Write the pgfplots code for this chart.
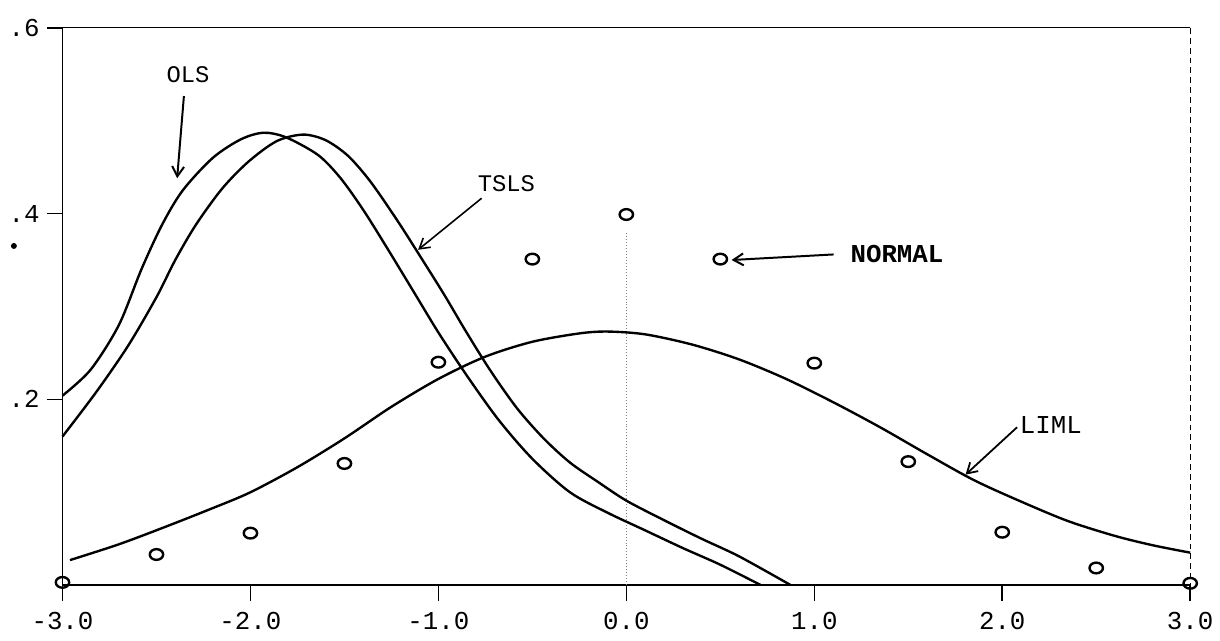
\documentclass[border=0pt]{standalone}
\usepackage{fontspec}
\setmonofont{Liberation Mono}
\usepackage{pgfplots}
\pgfplotsset{compat=1.18}
\usetikzlibrary{arrows.meta}
\begin{document}
\begin{tikzpicture}
\path (0,0) rectangle (610pt,323pt);
\begin{axis}[
  at={(31.5pt,28pt)}, anchor=south west,
  scale only axis, width=568.5pt, height=281pt,
  xmin=-3, xmax=3, ymin=0, ymax=0.6,
  axis lines*=left,
  axis line style={line width=0.9pt},
  tick align=outside, major tick length=8pt,
  tick style={line width=0.8pt, black},
  xtick={-3,-2,-1,0,1,2,3},
  xticklabels={-3.0,-2.0,-1.0,0.0,1.0,2.0,3.0},
  ytick={0.2,0.4,0.6},
  yticklabels={.2,.4,.6},
  ticklabel style={font=\ttfamily\fontsize{13}{15}\selectfont},
  xticklabel style={yshift=-2pt},
  clip=false,
]
% frame top and right
\draw[line width=0.5pt] (axis cs:-3,0.6) -- (axis cs:3,0.6);
\draw[line width=0.5pt, densely dashed] (axis cs:3,0.6) -- (axis cs:3,0);
\draw[line width=0.5pt, densely dotted, gray] (axis cs:0,0) -- (axis cs:0,0.38);

% OLS
\addplot[black, line width=1.2pt, smooth] coordinates {
(-3.00,0.204) (-2.85,0.232) (-2.70,0.280) (-2.58,0.340) (-2.47,0.388)
(-2.36,0.425) (-2.20,0.460) (-2.05,0.480) (-1.93,0.487) (-1.81,0.482)
(-1.64,0.463) (-1.52,0.438) (-1.40,0.404) (-1.27,0.362) (-1.12,0.312)
(-1.00,0.272) (-0.85,0.226) (-0.68,0.178) (-0.50,0.136) (-0.30,0.100)
(-0.10,0.078) (0.10,0.059) (0.30,0.040) (0.50,0.022) (0.716,0.000)};

% TSLS
\addplot[black, line width=1.2pt, smooth] coordinates {
(-3.00,0.160) (-2.82,0.208) (-2.65,0.258) (-2.50,0.310) (-2.40,0.350)
(-2.29,0.388) (-2.15,0.427) (-2.01,0.456) (-1.86,0.478) (-1.72,0.485)
(-1.60,0.479) (-1.48,0.462) (-1.36,0.434) (-1.22,0.393) (-1.10,0.355)
(-0.97,0.313) (-0.85,0.272) (-0.72,0.230) (-0.58,0.190) (-0.44,0.158)
(-0.30,0.132) (-0.15,0.111) (0.00,0.091) (0.20,0.070) (0.40,0.050)
(0.60,0.031) (0.875,0.000)};

% LIML
\addplot[black, line width=1.2pt, smooth] coordinates {
(-2.96,0.027) (-2.70,0.044) (-2.45,0.063) (-2.20,0.083) (-2.00,0.100)
(-1.75,0.127) (-1.50,0.158) (-1.25,0.192) (-1.00,0.222) (-0.75,0.246)
(-0.50,0.262) (-0.25,0.271) (-0.10,0.273) (0.10,0.270) (0.35,0.259)
(0.60,0.243) (0.85,0.222) (1.10,0.197) (1.35,0.170) (1.60,0.141)
(1.85,0.113) (2.10,0.090) (2.35,0.069) (2.60,0.053) (2.80,0.043)
(3.00,0.035)};

% NORMAL points
\addplot[only marks, mark=o, mark size=2.7pt, black,
  mark options={line width=1.2pt, xscale=1.25}] coordinates {
(-3,0.003) (-2.5,0.033) (-2,0.056) (-1.5,0.131) (-1,0.240) (-0.5,0.351)
(0,0.399) (0.5,0.351) (1,0.239) (1.5,0.133) (2,0.057) (2.5,0.0185) (3,0.002)};

% labels and arrows
\node[font=\ttfamily\fontsize{12}{14}\selectfont] at (axis cs:-2.332,0.550) {OLS};
\draw[line width=1pt, -{Straight Barb[length=5pt,width=6pt]}] (axis cs:-2.354,0.5265) -- (axis cs:-2.39,0.438);
\node[font=\ttfamily\fontsize{12}{14}\selectfont] at (axis cs:-0.638,0.4325) {TSLS};
\draw[line width=0.8pt, -{Straight Barb[length=5pt,width=6pt]}] (axis cs:-0.770,0.4165) -- (axis cs:-1.108,0.361);
\node[font=\ttfamily\bfseries\fontsize{13}{15}\selectfont] at (axis cs:1.44,0.357) {NORMAL};
\draw[line width=1pt, -{Straight Barb[length=5pt,width=6pt]}] (axis cs:1.103,0.356) -- (axis cs:0.56,0.350);
\node[font=\ttfamily\fontsize{13}{15}\selectfont] at (axis cs:2.259,0.172) {LIML};
\draw[line width=0.9pt, -{Straight Barb[length=5pt,width=6pt]}] (axis cs:2.079,0.170) -- (axis cs:1.805,0.119);
\end{axis}
\fill (7pt,199pt) circle (1.5pt);
\end{tikzpicture}
\end{document}
